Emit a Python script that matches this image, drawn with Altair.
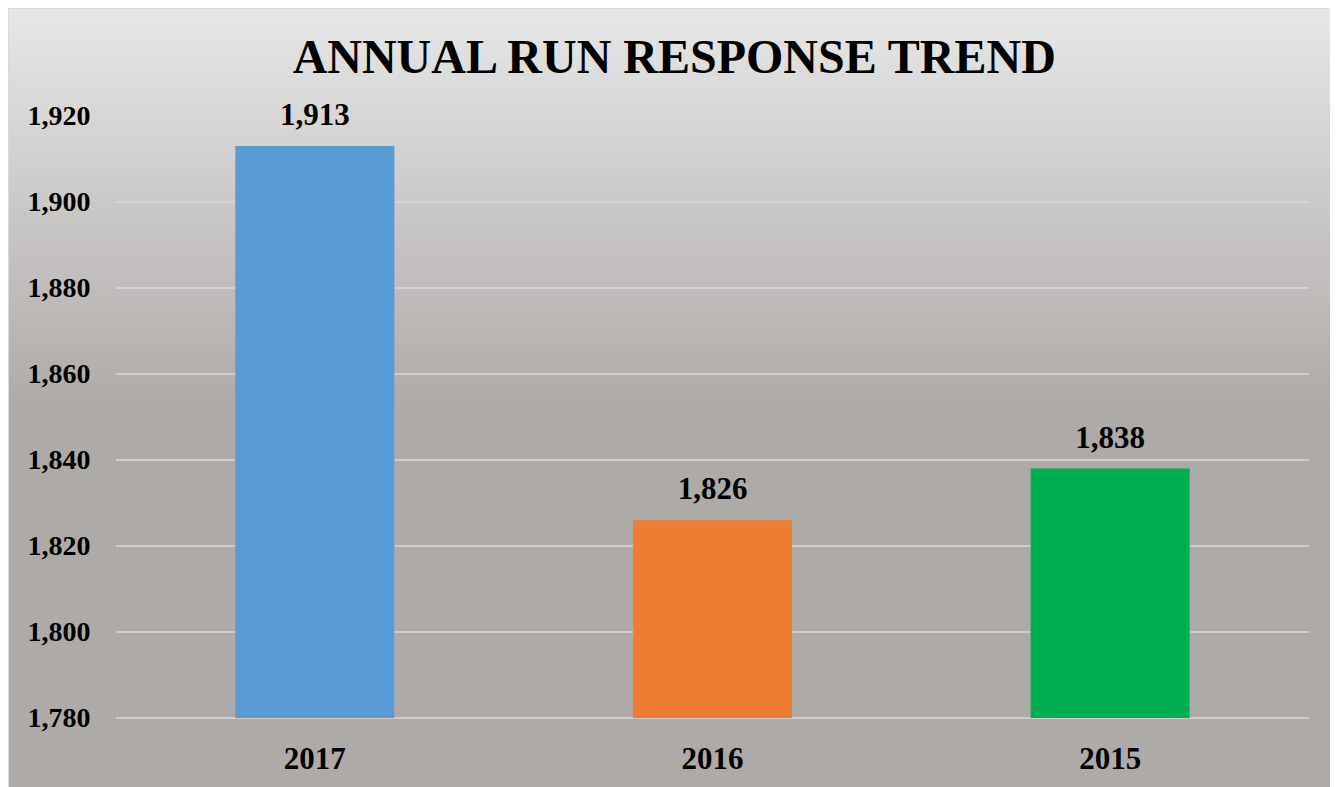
import altair as alt
import pandas as pd

years = ["2017", "2016", "2015"]
responses = [1913, 1826, 1838]
bar_colors = ["#5B9BD5", "#ED7D31", "#00B050"]
y_ticks = [1780, 1800, 1820, 1840, 1860, 1880, 1900, 1920]

df = pd.DataFrame({"year": years, "responses": responses, "color": bar_colors})
grid_df = pd.DataFrame({"tick": y_ticks})

W, H = 1193, 602
PL, PT, PR, PB = 108, 108, 21, 69
FONT = "Liberation Serif"

yscale = alt.Scale(domain=[1780, 1920], nice=False, zero=False, clamp=True)
yaxis = alt.Axis(title=None, values=y_ticks, format=",d", domain=False,
                 ticks=False, labelFont=FONT, labelFontSize=28,
                 labelFontWeight="bold", labelColor="#000000",
                 labelPadding=26, grid=False, zindex=1)

bg = alt.Chart(alt.Data(values=[{"k": 1}])).mark_rect(
    fill=alt.LinearGradient(
        gradient="linear", x1=0, y1=0, x2=0, y2=1,
        stops=[alt.GradientStop(offset=0, color="#e7e7e7"),
               alt.GradientStop(offset=0.5, color="#aeaaa8"),
               alt.GradientStop(offset=1, color="#aeaaa8")]),
    stroke="#d9d9d9", strokeWidth=1,
).encode(
    x=alt.value(-PL + 0.5), x2=alt.value(W + PR + 20),
    y=alt.value(-PT + 0.5), y2=alt.value(H + PB + 20),
)

grid = alt.Chart(grid_df).mark_rule(color="#d9d9d9", strokeWidth=1.5).encode(
    y=alt.Y("tick:Q", scale=yscale, axis=yaxis),
    x=alt.value(0), x2=alt.value(W),
)

base = alt.Chart(df)

bars = base.mark_bar().encode(
    x=alt.X("year:N", sort=years,
            scale=alt.Scale(paddingInner=0.6, paddingOuter=0.3),
            axis=alt.Axis(title=None, labelAngle=0, domain=False, ticks=False,
                          labelFont=FONT, labelFontSize=31, labelFontWeight="bold",
                          labelColor="#000000", labelPadding=26, grid=False,
                          zindex=1)),
    y=alt.Y("responses:Q", scale=yscale, axis=yaxis),
    color=alt.Color("color:N", scale=None),
)

labels = base.mark_text(
    font=FONT, fontSize=31, fontWeight="bold", color="#000000",
    baseline="bottom", dy=-14,
).encode(
    x=alt.X("year:N", sort=years),
    y=alt.Y("responses:Q", scale=yscale),
    text=alt.Text("responses:Q", format=",d"),
)

chart = alt.layer(bg, grid, bars, labels).properties(
    width=W, height=H,
    padding={"left": PL, "top": PT, "right": PR, "bottom": PB},
    autosize=alt.AutoSizeParams(type="none"),
    title=alt.TitleParams("ANNUAL RUN RESPONSE TREND", font=FONT, fontSize=48,
                          fontWeight="bold", color="#000000", anchor="middle",
                          baseline="alphabetic", offset=-113, dx=-5,
                          frame="bounds"),
    background="white",
).configure_view(stroke=None)

chart.save("out.html", embed_options={"renderer": "svg", "actions": False})
